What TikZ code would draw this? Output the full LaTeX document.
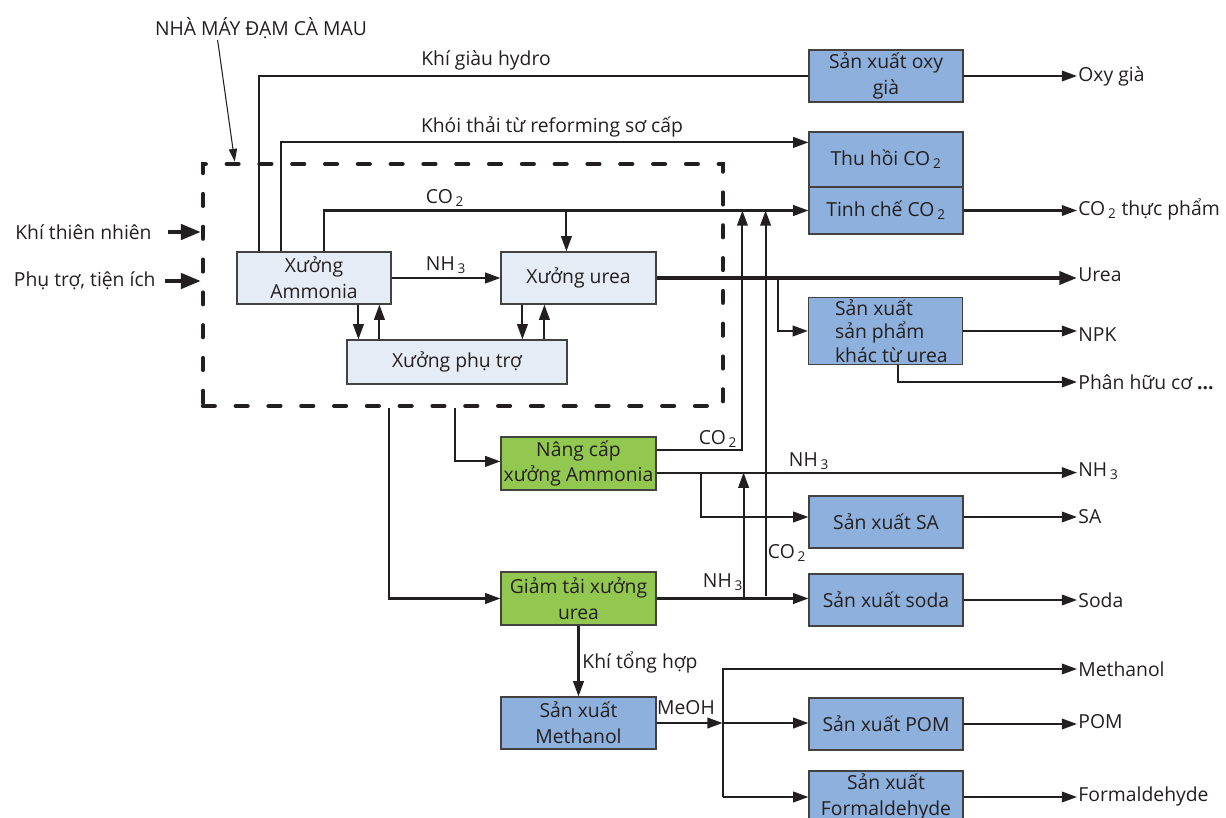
\documentclass[tikz,border=0pt]{standalone}
\usepackage{fontspec}
\setmainfont{Open Sans}
\usetikzlibrary{arrows.meta,calc}
\definecolor{bluebox}{RGB}{142,176,220}
\definecolor{lightbox}{RGB}{230,236,246}
\definecolor{greenbox}{RGB}{146,200,80}
\definecolor{ink}{RGB}{35,31,32}
\newcommand\subs[1]{\kern2.5pt\textsubscript{#1}}
\begin{document}
\begin{tikzpicture}[x=0.03cm,y=-0.03cm,
  font=\fontsize{16.5}{22}\selectfont,
  box/.style={draw=ink!85, line width=1pt, align=center, inner sep=1pt, text=ink},
  bbox/.style={box, fill=bluebox, minimum width=4.62cm, minimum height=1.56cm},
  lbox/.style={box, fill=lightbox},
  gbox/.style={box, fill=greenbox, minimum width=4.65cm, minimum height=1.59cm},
  ln/.style={line width=1.8pt, draw=ink},
  arr/.style={ln, -{Triangle[length=13pt,width=9pt]}},
  thk/.style={line width=3.2pt, draw=ink, -{Triangle[length=15pt,width=11pt]}},
  big/.style={line width=3.4pt, draw=ink, -{Triangle[length=17pt,width=13pt]}},
  ptr/.style={line width=0.9pt, draw=ink, -{Triangle[length=11pt,width=7pt]}},
  lbl/.style={inner sep=1pt, text=ink},
  rlbl/.style={lbl, anchor=west},
  dashbox/.style={draw=ink, line width=3.8pt, dash pattern=on 10pt off 18pt, line cap=round, inner sep=0pt}]
\useasboundingbox (0,0) rectangle (1226,818);

% plant boundary
\node[dashbox, minimum width=15.6cm, minimum height=7.26cm] (plant) at (463,285) {};

% boxes
\node[bbox] (oxy) at (886,76) {Sản xuất oxy\\già};
\node[bbox, minimum height=1.65cm] (thuhoi) at (886,159.5) {Thu hồi CO\subs{2}};
\node[bbox, minimum height=1.41cm] (tinhche) at (886,210.5) {Tinh chế CO\subs{2}};
\node[lbox, minimum width=4.62cm, minimum height=1.56cm] (ammonia) at (314,278) {Xưởng\\Ammonia};
\node[lbox, minimum width=4.65cm, minimum height=1.56cm] (urea) at (578.5,278) {Xưởng urea};
\node[lbox, minimum width=6.6cm, minimum height=1.32cm] (phutro) at (457,362) {Xưởng phụ trợ};
\node[bbox, minimum height=2.01cm, align=left, font=\fontsize{16.5}{20}\selectfont] (spkhac) at (885.5,331) {\hspace*{10pt}Sản xuất\\\hspace*{10pt}sản phẩm\\\hspace*{10pt}khác từ urea};
\node[gbox] (nangcap) at (578.5,463.5) {Nâng cấp\\xưởng Ammonia};
\node[gbox] (giamtai) at (578.5,598.5) {Giảm tải xưởng\\urea};
\node[bbox] (sa) at (886,522) {Sản xuất SA};
\node[bbox] (soda) at (886,600) {Sản xuất soda};
\node[bbox, minimum width=4.65cm] (methanol) at (578.5,723) {Sản xuất\\Methanol};
\node[bbox] (pom) at (886,724) {Sản xuất POM};
\node[bbox] (form) at (886,797) {Sản xuất\\Formaldehyde};

% labels
\node[lbl] (lnha) at (261,28) {NHÀ MÁY ĐẠM CÀ MAU};
\node[lbl, anchor=east] (lkhi) at (153,232) {Khí thiên nhiên};
\node[lbl, anchor=east] (lphu) at (157,281) {Phụ trợ, tiện ích};
\node[lbl] (lh2) at (486,60) {Khí giàu hydro};
\node[lbl] (lkhoi) at (552,127) {Khói thải từ reforming sơ cấp};
\node[lbl] (lco2a) at (445,198) {CO\subs{2}};
\node[lbl] (lnh3a) at (446,265) {NH\subs{3}};
\node[lbl] (lco2b) at (718,439) {CO\subs{2}};
\node[lbl] (lnh3b) at (809,461) {NH\subs{3}};
\node[lbl] (lco2c) at (787,553) {CO\subs{2}};
\node[lbl] (lnh3c) at (723,582) {NH\subs{3}};
\node[lbl, anchor=west] (ltong) at (581,662) {Khí tổng hợp};
\node[lbl] (lmeoh) at (686,708) {MeOH};

\node[rlbl] (loxy) at (1077,76) {Oxy già};
\node[rlbl] (lco2tp) at (1077,209) {CO\subs{2} thực phẩm};
\node[rlbl] (lurea) at (1077,275) {Urea};
\node[rlbl] (lnpk) at (1077,335) {NPK};
\node[rlbl] (lphan) at (1077,382) {Phân hữu cơ \textbf{...}};
\node[rlbl] (lnh3) at (1077,471) {NH\subs{3}};
\node[rlbl] (lsa) at (1077,517) {SA};
\node[rlbl] (lsoda) at (1077,600) {Soda};
\node[rlbl] (lmeth) at (1077,669) {Methanol};
\node[rlbl] (lpom) at (1077,722) {POM};
\node[rlbl] (lform) at (1077,796) {Formaldehyde};

% inputs
\draw[big] ($(lkhi.east)+(15,0)$) -- (lkhi.east -| plant.west);
\draw[big] ($(lphu.east)+(8,0)$) -- (lphu.east -| plant.west);
\draw[ptr] ($(lnha.south west)+(64,0)$) -- ($(plant.north west)+(34,0)$);

% from ammonia
\draw[ln] ($(ammonia.north west)+(23,0)$) |- (oxy.west);
\draw[arr] ($(ammonia.north west)+(45,0)$) |- ($(thuhoi.north west)+(0,11)$);
\draw[arr] ($(ammonia.north west)+(88,0)$) |- (tinhche.west);
\coordinate (co2split) at ($(urea.north west)+(66,0)$);
\draw[arr] (co2split |- tinhche.west) -- (co2split);
\draw[arr] (ammonia) -- (urea);
\coordinate (a1) at ($(ammonia.south west)+(122,0)$);
\coordinate (a2) at ($(ammonia.south west)+(143,0)$);
\coordinate (u1) at ($(urea.south west)+(22,0)$);
\coordinate (u2) at ($(urea.south west)+(44,0)$);
\draw[arr] (a1) -- (a1 |- phutro.north);
\draw[arr] (a2 |- phutro.north) -- (a2);
\draw[arr] (u1) -- (u1 |- phutro.north);
\draw[arr] (u2 |- phutro.north) -- (u2);

% urea products
\draw[thk] (urea.east) -- (urea.east -| lurea.west);
\draw[arr] ($(urea.east)+(121,0)$) |- (spkhac.west);
\draw[arr] (spkhac.east) -- (spkhac.east -| lnpk.west);
\draw[arr] ($(spkhac.south west)+(90,0)$) |- (lphan.west);
\draw[arr] (oxy.east) -- (oxy.east -| loxy.west);
\draw[arr] (tinhche.east) -- (tinhche.east -| lco2tp.west);

% plant outputs
\draw[arr] ($(plant.south west)+(188,0)$) |- (giamtai.west);
\draw[arr] ($(plant.south west)+(254,0)$) |- ($(nangcap.north west)+(0,25)$);

% nang cap
\draw[arr] ($(nangcap.north east)+(0,14)$) -| ($(tinhche.west)+(-66,0)$);
\coordinate (nh3out) at ($(nangcap.south east)+(0,-18)$);
\draw[arr] (nh3out) -- (nh3out -| lnh3.west);
\draw[arr] ($(nh3out)+(44,0)$) |- ($(sa.west)+(0,-5)$);
\draw[arr] ($(sa.east)+(0,-5)$) -- ($(sa.east -| lsa.west)+(0,-5)$);

% giam tai
\draw[arr] (giamtai.east) -- (giamtai.east -| soda.west);
\coordinate (g1) at ($(giamtai.east)+(87,0)$);
\draw[arr] (g1) -- (g1 |- nh3out);
\coordinate (g2) at ($(giamtai.east)+(109,-3)$);
\draw[arr] (g2) -- (g2 |- tinhche.west);
\draw[arr] (soda.east) -- (soda.east -| lsoda.west);
\draw[arr] (giamtai) -- (methanol);

% methanol
\coordinate (mj) at ($(methanol.east)+(66,0)$);
\draw[arr] (methanol.east) -- (mj);
\draw[arr] (mj |- form.west) |- (lmeth.west);
\draw[arr] (mj) -- (mj -| pom.west);
\draw[arr] (mj |- form.west) -- (form.west);
\draw[arr] (pom.east) -- (pom.east -| lpom.west);
\draw[arr] (form.east) -- (form.east -| lform.west);
\end{tikzpicture}
\end{document}
